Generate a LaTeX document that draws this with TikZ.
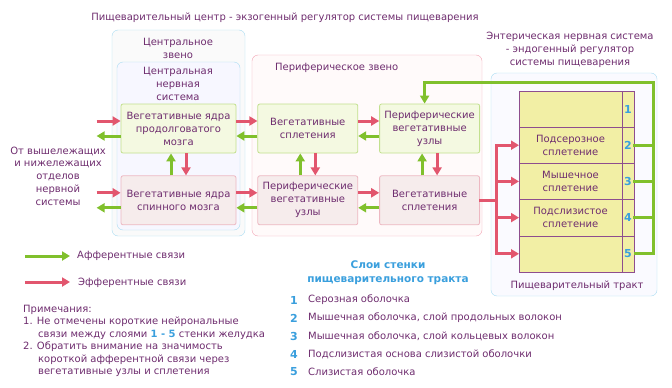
\documentclass[tikz,border=0pt]{standalone}
\usepackage{fontspec}
\setmainfont{DejaVu Sans}
\usepackage{tikz}
\usetikzlibrary{positioning,arrows.meta}

\definecolor{txtpurple}{HTML}{6E2C6E}
\definecolor{arrgreen}{HTML}{80C02C}
\definecolor{arrred}{HTML}{E2566E}
\definecolor{numblue}{HTML}{3A9FDD}
\definecolor{boxblue}{HTML}{A9DCF2}
\definecolor{boxpink}{HTML}{F2A3B3}
\definecolor{nodegreen}{HTML}{C2E08E}
\definecolor{fillgreen}{HTML}{F4F9E1}
\definecolor{nodepink}{HTML}{EDB8C2}
\definecolor{fillpink}{HTML}{F6ECEC}
\definecolor{layerfill}{HTML}{F2EFA5}
\definecolor{layerline}{HTML}{8E4E8E}

\begin{document}
\begin{tikzpicture}[x=1pt, y=-1pt,
font=\fontsize{10}{13}\selectfont, text=txtpurple,
greennode/.style={rectangle, rounded corners=2pt, draw=nodegreen, fill=fillgreen, thick, minimum width=100pt, minimum height=49pt, align=center, inner sep=1pt},
pinknode/.style={greennode, draw=nodepink, fill=fillpink},
gar/.style={draw=arrgreen, line width=3pt, -{Triangle[length=8pt,width=9pt]}},
rar/.style={draw=arrred, line width=3pt, -{Triangle[length=8pt,width=9pt]}},
gline/.style={draw=arrgreen, line width=3pt, line cap=rect},
rline/.style={draw=arrred, line width=3pt, line cap=rect},
layercell/.style={rectangle, draw=layerline, fill=layerfill, minimum width=103pt, minimum height=36.2pt, align=center, inner sep=0pt, outer sep=0pt},
numcell/.style={layercell, minimum width=12pt, text=numblue, font=\fontsize{11}{13}\selectfont\bfseries},
]
\useasboundingbox (0,0) rectangle (672,388);

%Boxes
\draw[boxblue, fill=black!2, rounded corners=6pt] (112,30) rectangle (245,236);
\draw[boxblue, fill=blue!3, rounded corners=6pt] (117,62) rectangle (240,230);
\draw[boxpink, fill=red!2, rounded corners=6pt] (252,55) rectangle (482,236);
\draw[boxblue, fill=blue!2, rounded corners=6pt] (491,73) rectangle (657,296);

%Labels
\node (title) at (285,18) {Пищеварительный центр - экзогенный регулятор системы пищеварения};
\node (centrlabel) [align=center] at (178,48) {Центральное\\звено};
\node (cnslabel) [align=center] at (178,83.5) {Центральная\\нервная\\система};
\node (perlabel) [anchor=west, inner sep=0pt] at (275,68) {Периферическое звено};
\node (entlabel) [align=center] at (570,50) {Энтерическая нервная система\\- эндогенный регулятор\\системы пищеварения};
\node (tractlabel) at (577,286) {Пищеварительный тракт};
\node (fromlabel) [align=center, font=\fontsize{10}{12.75}\selectfont] at (58,176) {От вышележащих\\и нижележащих\\отделов\\нервной\\системы};

%Nodes
\node[greennode, minimum width=115pt] (cnsup)    at (178.5,128.5)      {Вегетативные ядра\\продолговатого\\мозга};
\node[pinknode, minimum width=115pt]  (cnsdown)  [below=22pt of cnsup] {Вегетативные ядра\\спинного мозга};
\node[greennode] (plexup)   [right=21pt of cnsup]   {Вегетативные\\сплетения};
\node[greennode] (nodeup)   [right=21pt of plexup]  {Периферические\\вегетативные\\узлы};
\node[pinknode]  (nodedown) [below=22pt of plexup]  {Периферические\\вегетативные\\узлы};
\node[pinknode]  (plexdown) [below=22pt of nodeup]  {Вегетативные\\сплетения};

%Layers
\node[layercell] (layer1) at (570.5,109) {};
\node[layercell] (layer2) [below=0pt of layer1] {Подсерозное\\сплетение};
\node[layercell] (layer3) [below=0pt of layer2] {Мышечное\\сплетение};
\node[layercell] (layer4) [below=0pt of layer3] {Подслизистое\\сплетение};
\node[layercell] (layer5) [below=0pt of layer4] {};
\foreach \k in {1,...,5}
  \node[numcell] (num\k) [right=0pt of layer\k] {\k};

%Lines
\foreach \a/\b in {cnsup/plexup, plexup/nodeup, cnsdown/nodedown, nodedown/plexdown}{
  \draw[rar] ([yshift=7.5pt]\a.east) -- ([yshift=7.5pt]\b.west);
  \draw[gar] ([yshift=-7.5pt]\b.west) -- ([yshift=-7.5pt]\a.east);
}
\foreach \a/\b in {cnsup/cnsdown, plexup/nodedown, nodeup/plexdown}{
  \draw[gar] ([xshift=-7.5pt]\b.north) -- ([xshift=-7.5pt]\a.south);
  \draw[rar] ([xshift=7.5pt]\a.south) -- ([xshift=7.5pt]\b.north);
}
\foreach \a in {cnsup, cnsdown}{
  \draw[rar] ([shift={(-24pt,7.5pt)}]\a.west) -- ([yshift=7.5pt]\a.west);
  \draw[gar] ([yshift=-7.5pt]\a.west) -- ([shift={(-24pt,-7.5pt)}]\a.west);
}

\coordinate (gtop) at (653,82);
\draw[gar] (num5.east) -| (gtop) -| ([xshift=-5pt]nodeup.north);
\foreach \k in {2,3,4}
  \draw[gline] (num\k.east) -- (num\k.east -| gtop);

\coordinate (rfork) at (496,200);
\draw[rline] (plexdown.east) -- (plexdown.east -| rfork);
\draw[rline] (rfork |- layer2.west) -- (rfork |- layer5.west);
\foreach \k in {2,...,5}
  \draw[rar] (rfork |- layer\k.west) -- (layer\k.west);

%Legend
\node (afflabel) [anchor=west, inner sep=0pt] at (77,256) {Афферентные связи};
\node (efflabel) [anchor=west, inner sep=0pt] at (78,283) {Эфферентные связи};
\coordinate (affstart) at (25,256);
\coordinate (effstart) at (25,282);
\draw[gar] (affstart) -- ([xshift=-7pt]afflabel.west);
\draw[rar] (effstart) -- ([xshift=-8pt]efflabel.west |- effstart);

\node (notes) [anchor=north west, align=left, inner sep=0pt, font=\fontsize{10}{12.4}\selectfont] at (23,305) {Примечания:\\
1. Не отмечены короткие нейрональные\\
\hspace*{15pt}связи между слоями {\color{numblue}\bfseries 1 - 5} стенки желудка\\
2. Обратить внимание на значимость\\
\hspace*{15pt}короткой афферентной связи через\\
\hspace*{15pt}вегетативные узлы и сплетения};

\node (layershead) [align=center, text=numblue, font=\fontsize{10.5}{14}\selectfont\bfseries] at (388,273) {Слои стенки\\пищеварительного тракта};
\foreach \txt [count=\i] in {Серозная оболочка, {Мышечная оболочка, слой продольных волокон}, {Мышечная оболочка, слой кольцевых волокон}, Подслизистая основа слизистой оболочки, Слизистая оболочка}{
  \node (lnum\i) [text=numblue, font=\fontsize{11}{13}\selectfont\bfseries] at (294,{300+18*(\i-1)}) {\i};
  \node (ltext\i) [anchor=west, inner sep=0pt] at (308,{300+18*(\i-1)}) {\txt};
}
\end{tikzpicture}
\end{document}
